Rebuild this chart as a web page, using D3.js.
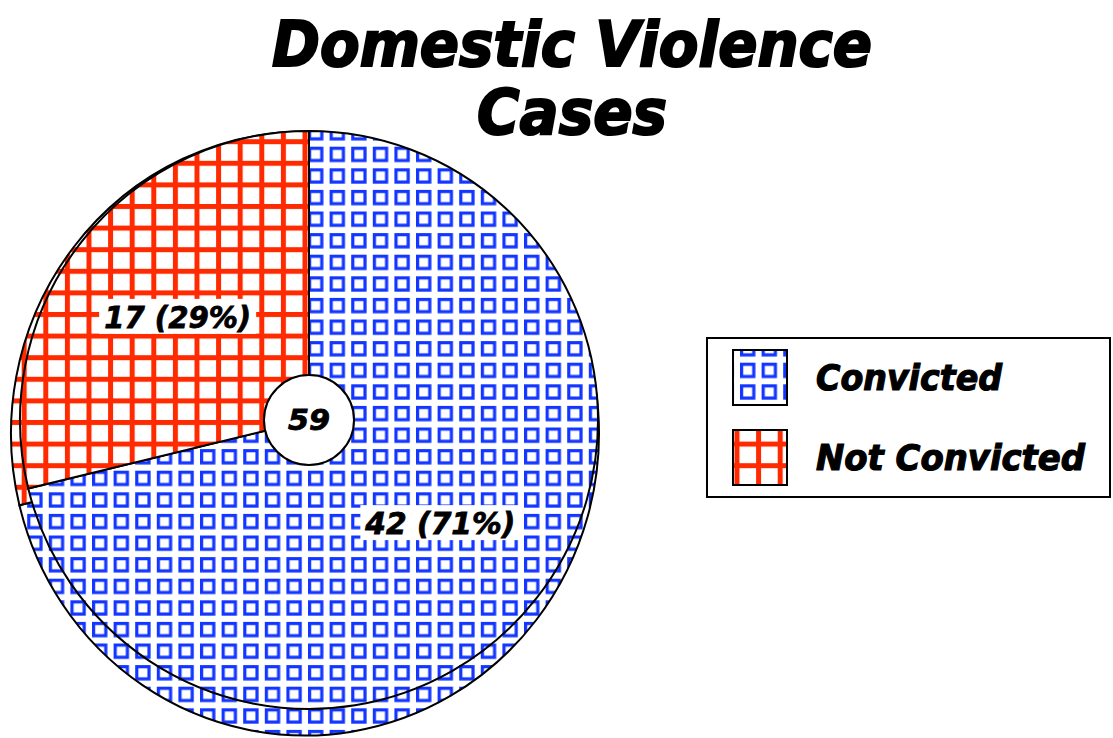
<!DOCTYPE html>
<html>
<head>
<meta charset="utf-8">
<script src="https://cdn.jsdelivr.net/npm/d3@7"></script>
<style>
  body { margin: 0; background: #fff; }
  svg { display: block; }
  text { font-family: "DejaVu Sans", sans-serif; font-weight: bold; font-style: italic; fill: #000; stroke: #000; }
</style>
</head>
<body>
<svg id="chart" width="1113" height="738"></svg>
<script>
var titleLines = ["Domestic Violence", "Cases"];
var categories = ["Convicted", "Not Convicted"];
var values = [42, 17];
var colors = ["#1236ff", "#ff2a00"];

var W = 1113, H = 738;
var P = 21.6; // pattern tile

var svg = d3.select("#chart");
var defs = svg.append("defs");

// patterns fixed to page coordinates; inv undoes the transform of the shape using them
function makePatterns(id, inv) {
  var blue = defs.append("pattern")
    .attr("id", "blue" + id)
    .attr("patternUnits", "userSpaceOnUse")
    .attr("x", 308).attr("y", 146.7)
    .attr("width", P).attr("height", P)
    .attr("patternTransform", inv)
  blue.append("rect").attr("width", P).attr("height", P).attr("fill", "#fff")
  blue.append("rect")
    .attr("x", 1.6).attr("y", 1.6).attr("width", 12.2).attr("height", 12.2)
    .attr("fill", "none").attr("stroke", colors[0]).attr("stroke-width", 3.2)

  var red = defs.append("pattern")
    .attr("id", "red" + id)
    .attr("patternUnits", "userSpaceOnUse")
    .attr("x", 302.5).attr("y", 160.8)
    .attr("width", P).attr("height", P)
    .attr("patternTransform", inv)
  red.append("rect").attr("width", P).attr("height", P).attr("fill", "#fff")
  red.append("rect").attr("width", 5).attr("height", P).attr("fill", colors[1])
  red.append("rect").attr("width", P).attr("height", 5).attr("fill", colors[1])
  return ["url(#blue" + id + ")", "url(#red" + id + ")"]
}

var pie = d3.pie().sort(null).value(function(d) { return d; });
var arcs = pie(values);
var total = d3.sum(values);

// back pie (the lower, slightly larger outline)
var back = {cx: 305, cy: 433.5, r: 294, sy: 302 / 294};
var backFill = makePatterns("Back", "scale(1," + (1 / back.sy) + ") translate(" + (-back.cx) + "," + (-back.cy) + ")");
var backArc = d3.arc().innerRadius(0).outerRadius(back.r);
svg.append("g")
  .selectAll("path")
  .data(arcs)
  .join("path")
  .attr("transform", "translate(" + back.cx + "," + back.cy + ") scale(1," + back.sy + ")")
  .attr("d", backArc)
  .attr("fill", function(d, i) { return backFill[i]; })
  .attr("stroke", "#000")
  .attr("stroke-width", 2)
  .attr("vector-effect", "non-scaling-stroke")

// front pie
var front = {cx: 309, cy: 420, r: 289};
var frontFill = makePatterns("Front", "translate(" + (-front.cx) + "," + (-front.cy) + ")");
var frontArc = d3.arc().innerRadius(0).outerRadius(front.r);
var g = svg.append("g").attr("transform", "translate(" + front.cx + "," + front.cy + ")");
g.selectAll("path")
  .data(arcs)
  .join("path")
  .attr("d", frontArc)
  .attr("fill", function(d, i) { return frontFill[i]; })
  .attr("stroke", "#000")
  .attr("stroke-width", 2)

// slice labels with white boxes
var labelArc = d3.arc().innerRadius(167).outerRadius(167);
var labelWidths = [150, 147];
arcs.forEach(function(d, i) {
  var c = labelArc.centroid(d);
  var lw = labelWidths[i];
  g.append("rect")
    .attr("x", c[0] - lw / 2 - 5).attr("y", c[1] - 18)
    .attr("width", lw + 10).attr("height", 35)
    .attr("fill", "#fff")
  g.append("text")
    .attr("x", c[0]).attr("y", c[1] + 11)
    .attr("text-anchor", "middle")
    .attr("font-size", 30)
    .attr("stroke-width", 0.8)
    .attr("textLength", lw)
    .attr("lengthAdjust", "spacingAndGlyphs")
    .text(d.data + " (" + Math.round(d.data / total * 100) + "%)")
});

// total in the middle
g.append("circle").attr("r", 45).attr("fill", "#fff").attr("stroke", "#000").attr("stroke-width", 2)
g.append("text")
  .attr("y", 10)
  .attr("text-anchor", "middle")
  .attr("font-size", 28)
  .attr("stroke-width", 0.8)
  .attr("textLength", 42)
  .attr("lengthAdjust", "spacingAndGlyphs")
  .text(total)

// title
var titleWidths = [600, 190];
var titleBase = [66, 134];
titleLines.forEach(function(t, i) {
  svg.append("text")
    .attr("x", 572).attr("y", titleBase[i])
    .attr("text-anchor", "middle")
    .attr("font-size", 63)
    .attr("stroke-width", 2.2)
    .attr("textLength", titleWidths[i])
    .attr("lengthAdjust", "spacingAndGlyphs")
    .text(t)
});

// legend
var legend = svg.append("g");
legend.append("rect")
  .attr("x", 707).attr("y", 338).attr("width", 403).attr("height", 159)
  .attr("fill", "#fff").attr("stroke", "#000").attr("stroke-width", 2)
var legendFill = ["url(#blueBase)", "url(#redBase)"];
makePatterns("Base", null);
var legendWidths = [186, 269];
categories.forEach(function(c, i) {
  var y = 350 + i * 80;
  legend.append("rect")
    .attr("x", 733).attr("y", y).attr("width", 54).attr("height", 55)
    .attr("fill", legendFill[i]).attr("stroke", "#000").attr("stroke-width", 2)
  legend.append("text")
    .attr("x", 816).attr("y", y + 40)
    .attr("font-size", 35)
    .attr("stroke-width", 1.2)
    .attr("textLength", legendWidths[i])
    .attr("lengthAdjust", "spacingAndGlyphs")
    .text(c)
});
</script>
</body>
</html>
